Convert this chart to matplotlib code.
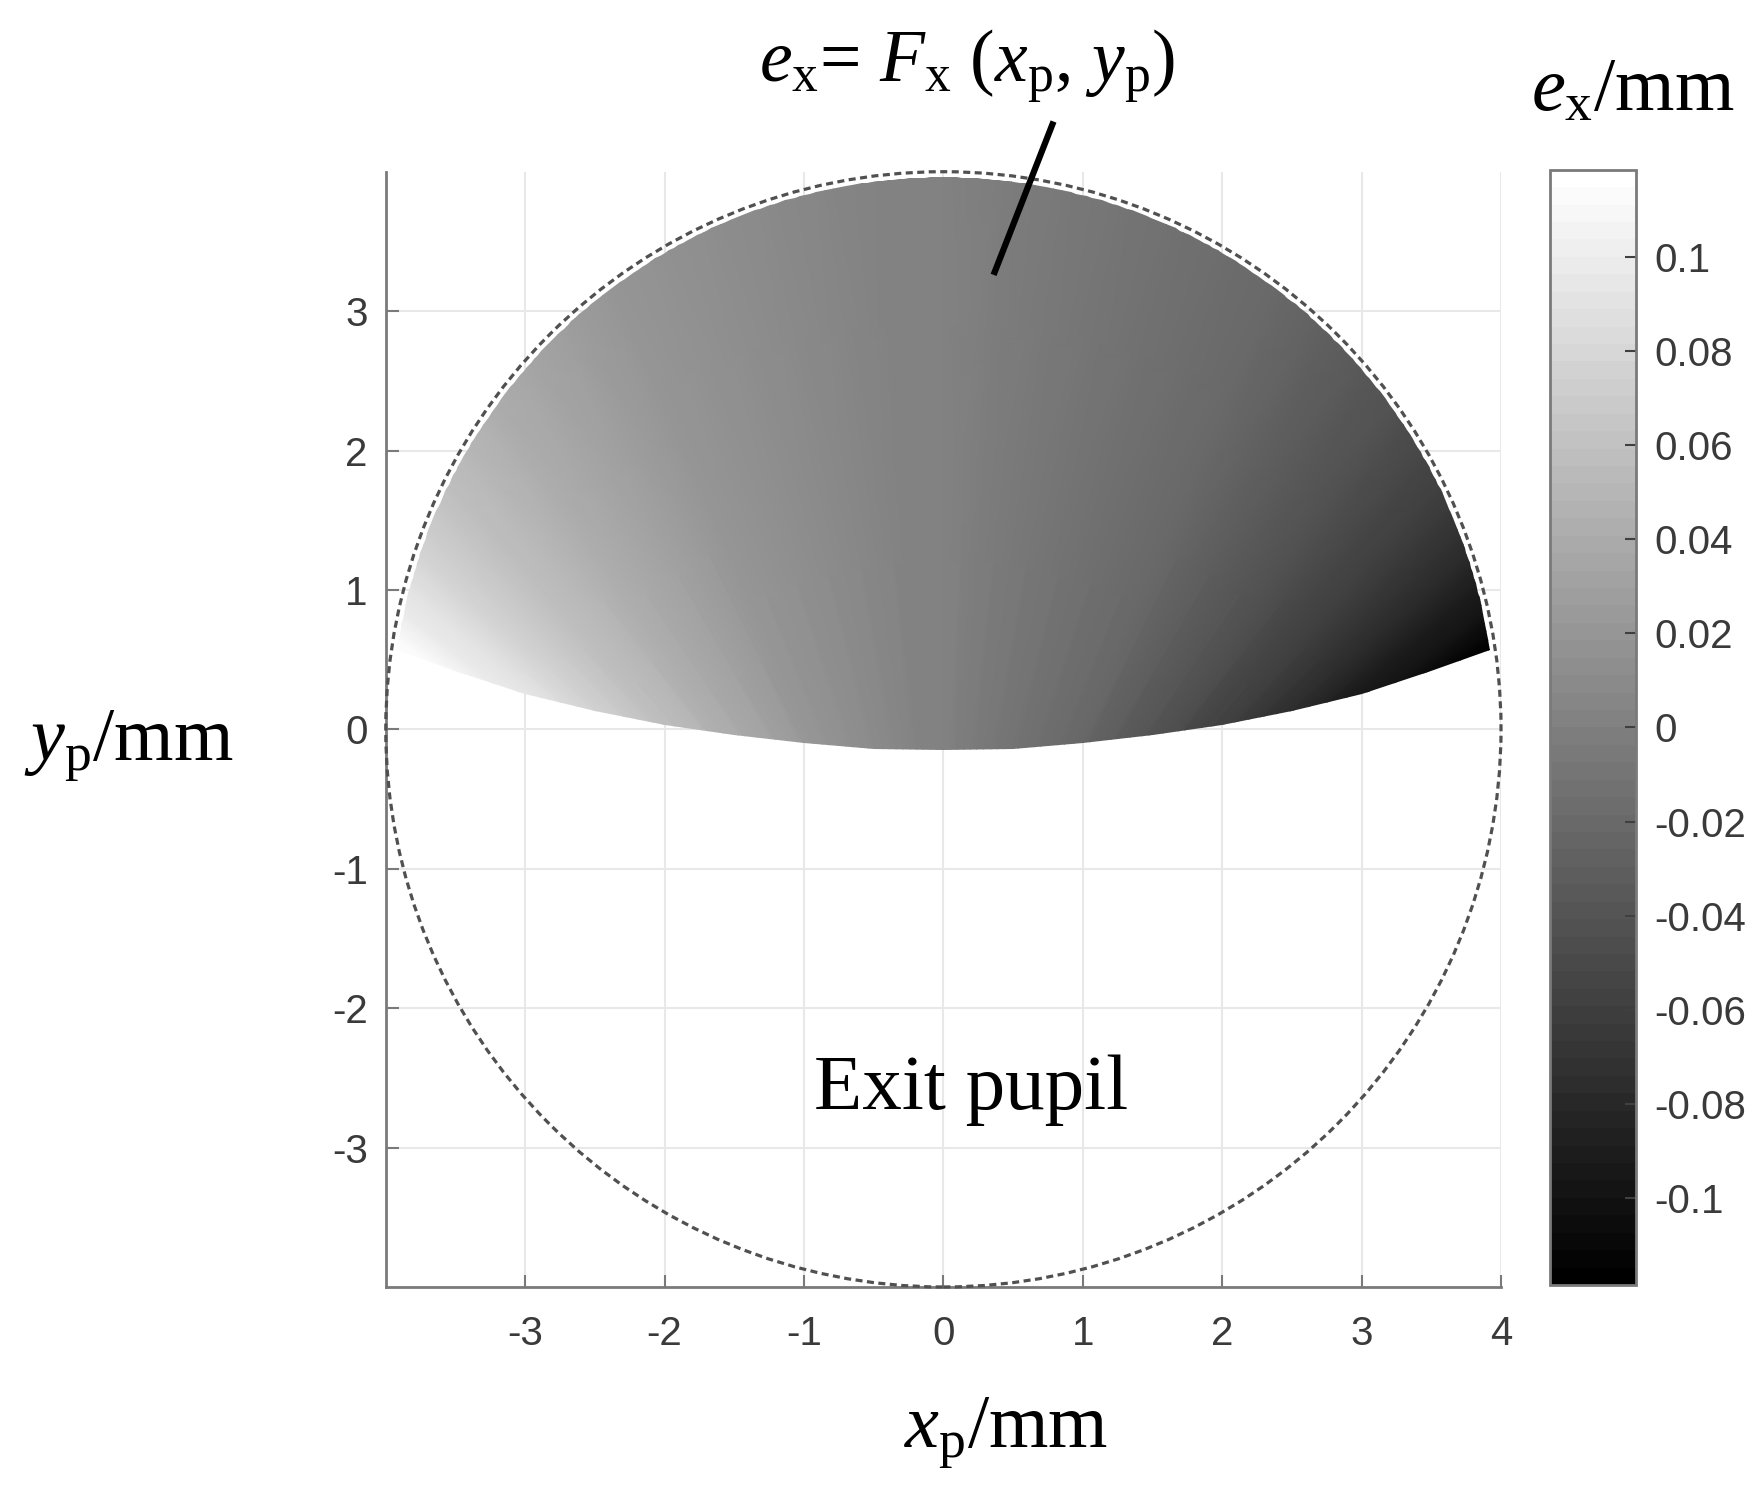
import numpy as np
import matplotlib
matplotlib.use('Agg')
import matplotlib.pyplot as plt
from matplotlib.patches import Polygon, Circle

# e_x (mm) along rays fanning out from a point below the pupil
fan_angles_deg = [-56, -54, -52, -50, -48, -46, -44, -42, -40, -36, -32, -28, -24, -20, -16, -12, -8, -4,
                  0, 4, 8, 12, 16, 20, 24, 28, 32, 36, 40, 42, 44, 46, 48, 50, 52, 54, 56]
ex_values = [0.1185, 0.112, 0.099, 0.090, 0.081, 0.072, 0.064, 0.058, 0.052,
             0.043, 0.034, 0.028, 0.022, 0.017, 0.012, 0.0085, 0.0055, 0.0025,
             0.0,
             -0.0025, -0.0055, -0.0085, -0.012, -0.017, -0.022, -0.028, -0.034, -0.043,
             -0.052, -0.058, -0.064, -0.072, -0.081, -0.090, -0.099, -0.112, -0.1185]

# lower edge of the illuminated part of the pupil
edge_x = [-3.92, -3.5, -3.0, -2.5, -2.0, -1.5, -1.0, -0.5, 0.0, 0.5, 1.0, 1.5, 2.0, 2.5, 3.0, 3.5, 3.92]
edge_y = [0.57, 0.42, 0.25, 0.13, 0.03, -0.04, -0.10, -0.14, -0.15, -0.14, -0.10, -0.04, 0.03, 0.13, 0.25, 0.42, 0.57]

x_ticks = [-3, -2, -1, 0, 1, 2, 3, 4]
y_ticks = [-3, -2, -1, 0, 1, 2, 3]
cbar_ticks = [0.1, 0.08, 0.06, 0.04, 0.02, 0, -0.02, -0.04, -0.06, -0.08, -0.1]
cbar_labels = ['0.1', '0.08', '0.06', '0.04', '0.02', '0', '-0.02', '-0.04', '-0.06', '-0.08', '-0.1']

pupil_r = 4.0
field_r = 3.96
fan_y0 = -2.2
ex_lim = 0.1185

plt.rcParams['axes.unicode_minus'] = False
plt.rcParams['mathtext.fontset'] = 'custom'
plt.rcParams['mathtext.rm'] = 'Liberation Serif'
plt.rcParams['mathtext.it'] = 'Liberation Serif:italic'

serif = 'Liberation Serif'
sans = 'Liberation Sans'
tick_col = '#3a3a3a'
spine_col = '#7a7a7a'

fig = plt.figure(figsize=(17.65, 14.97), dpi=100)
ax = fig.add_axes([0.218, 0.1403, 0.633, 0.745])

# fan mesh, constant along each ray
th = np.radians(fan_angles_deg)
T, R = np.meshgrid(th, [1.0, 7.5])
X = R * np.sin(T)
Y = fan_y0 + R * np.cos(T)
C = np.tile(np.array(ex_values), (2, 1))
pcm = ax.pcolormesh(X, Y, C, shading='gouraud', cmap=plt.get_cmap('gray', 64),
                    vmin=-ex_lim, vmax=ex_lim, zorder=2)

a_r = np.arctan2(edge_y[-1], edge_x[-1])
a_l = np.arctan2(edge_y[0], edge_x[0])
arc = np.linspace(a_r, a_l, 300)
px = np.concatenate([edge_x, field_r * np.cos(arc)])
py = np.concatenate([edge_y, field_r * np.sin(arc)])
clip = Polygon(np.column_stack([px, py]), closed=True, transform=ax.transData)
pcm.set_clip_path(clip)

circ = Circle((0, 0), pupil_r, fill=False, ec='#505050', lw=2.3, clip_on=False, zorder=3)
circ.set_linestyle((0, (2.2, 1.4)))
ax.add_patch(circ)

ax.plot([0.79, 0.36], [4.36, 3.26], color='black', lw=4.5, solid_capstyle='butt',
        clip_on=False, zorder=4)
ax.text(0.20, -2.72, 'Exit pupil', ha='center', va='baseline', fontsize=57, family=serif)

ax.set_xlim(-4, 4)
ax.set_ylim(-4, 4)
ax.set_aspect('equal')
ax.set_xticks(x_ticks)
ax.set_yticks(y_ticks)
ax.set_xticklabels([str(v) for v in x_ticks])
ax.set_yticklabels([str(v) for v in y_ticks])
ax.grid(True, color='#e8e8e8', lw=1.5)
ax.set_axisbelow(True)
for s in ['top', 'right']:
    ax.spines[s].set_visible(False)
for s in ['left', 'bottom']:
    ax.spines[s].set_color(spine_col)
    ax.spines[s].set_linewidth(2)
ax.tick_params(direction='in', length=9, width=1.5, color=spine_col, labelcolor=tick_col,
               labelsize=29)
ax.tick_params(axis='x', pad=20)
ax.tick_params(axis='y', pad=13)
for lab in ax.get_xticklabels() + ax.get_yticklabels():
    lab.set_family(sans)

cax = fig.add_axes([0.878, 0.1416, 0.049, 0.745])
cb = fig.colorbar(pcm, cax=cax, ticks=cbar_ticks)
cb.ax.set_yticklabels(cbar_labels)
cb.outline.set_edgecolor(spine_col)
cb.outline.set_linewidth(2)
cb.ax.tick_params(direction='in', length=8, width=1.5, color='#404040', labelcolor=tick_col,
                  labelsize=29, pad=13)
for lab in cb.ax.get_yticklabels():
    lab.set_family(sans)

fig.text(0.548, 0.946, r'$e_{\mathrm{x}}$= $F_{\mathrm{x}}$ ($x_{\mathrm{p}}$, $y_{\mathrm{p}}$)',
         ha='center', va='baseline', fontsize=53, family=serif)
fig.text(0.925, 0.9265, r'$e_{\mathrm{x}}$/mm', ha='center', va='baseline', fontsize=55, family=serif)
fig.text(0.073, 0.4923, r'$y_{\mathrm{p}}$/mm', ha='center', va='baseline', fontsize=55, family=serif)
fig.text(0.570, 0.0334, r'$x_{\mathrm{p}}$/mm', ha='center', va='baseline', fontsize=55, family=serif)

fig.savefig('out.png', dpi=100, facecolor='white')
